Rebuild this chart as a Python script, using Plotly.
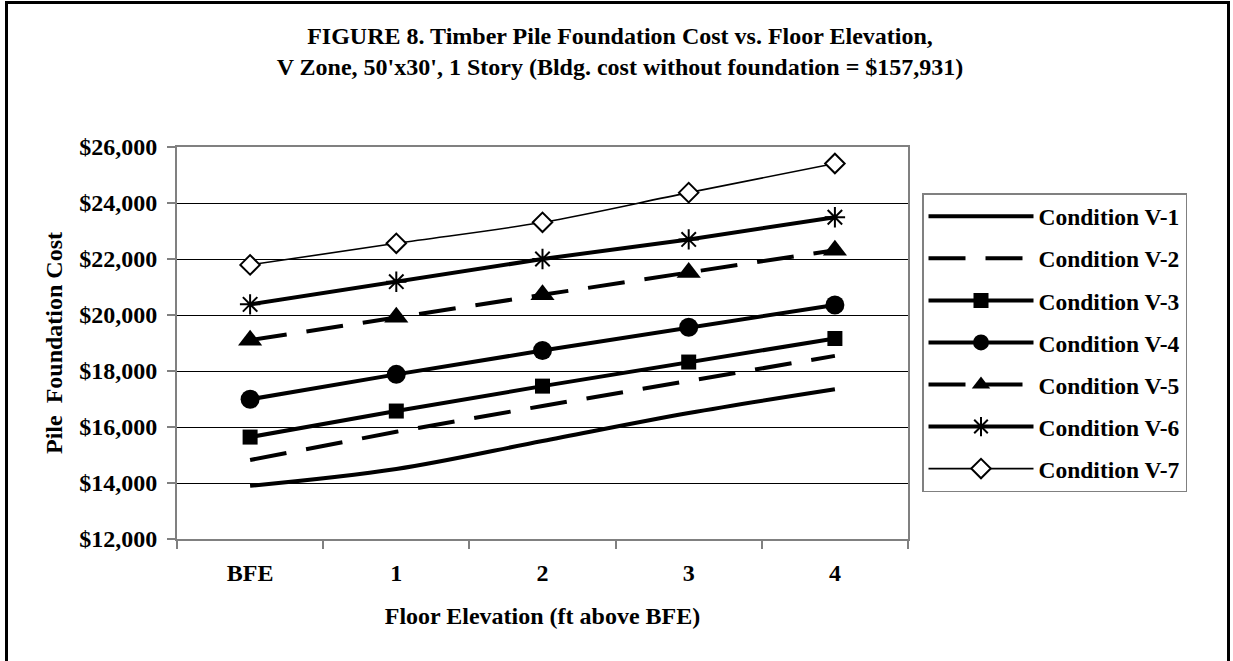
import plotly.graph_objects as go

categories = ["BFE", "1", "2", "3", "4"]
v1 = [13900, 14500, 15500, 16500, 17350]
v2 = [14820, 15830, 16750, 17650, 18540]
v3 = [15640, 16570, 17460, 18320, 19160]
v4 = [16990, 17880, 18730, 19560, 20360]
v5 = [19100, 19920, 20720, 21520, 22310]
v6 = [20380, 21190, 22000, 22700, 23490]
v7 = [21790, 22560, 23310, 24370, 25410]
names = ["Condition V-1", "Condition V-2", "Condition V-3", "Condition V-4",
         "Condition V-5", "Condition V-6", "Condition V-7"]

W, H = 1233, 661
ML, MR, MT, MB = 177, 325, 147, 122
PW, PH = W - ML - MR, H - MT - MB
FONT = "Liberation Serif, Times New Roman, serif"

def px_x(p):
    return (p - ML) / PW

def px_y(p):
    return (H - MB - p) / PH

def bfont(size):
    return dict(family=FONT, size=size, color="black", weight="bold")

fig = go.Figure()
dash = "37px,20px"
specs = [
    (v1, dict(width=4, shape="spline"), None),
    (v2, dict(width=4, dash=dash), None),
    (v3, dict(width=4), dict(symbol="square", size=15, color="black")),
    (v4, dict(width=4), dict(symbol="circle", size=19, color="black")),
    (v5, dict(width=4, dash=dash), dict(symbol="triangle-up", size=21, color="black")),
    (v6, dict(width=4), dict(symbol="asterisk-open", size=17, color="black", line=dict(width=2, color="black"))),
    (v7, dict(width=1.6, shape="spline"), dict(symbol="diamond", size=15, color="white", line=dict(width=2, color="black"))),
]
for i, (vals, line, marker) in enumerate(specs):
    line = dict(color="black", **line)
    kw = dict(x=categories, y=vals, name=names[i], line=line, legendgroup=f"g{i}",
              mode="lines+markers" if marker else "lines")
    if marker:
        kw["marker"] = marker
    fig.add_trace(go.Scatter(**kw))

fig.update_layout(
    width=W, height=H,
    margin=dict(l=ML, r=MR, t=MT, b=MB),
    paper_bgcolor="white", plot_bgcolor="white",
    font=bfont(24),
    title=dict(
        text="FIGURE 8. Timber Pile Foundation Cost vs. Floor Elevation,<br>V Zone, 50'x30', 1 Story (Bldg. cost without foundation = $157,931)",
        x=620 / W, xref="container", xanchor="center",
        y=1 - 44 / H, yref="container", yanchor="middle",
        font=bfont(24),
    ),
    showlegend=True,
    legend=dict(
        x=px_x(922), xanchor="left", y=px_y(193), yanchor="top",
        bordercolor="#808080", borderwidth=1.5, bgcolor="white",
        font=bfont(23.5),
        tracegroupgap=8.5, itemwidth=105,
        entrywidth=265, entrywidthmode="pixels",
    ),
)
fig.update_xaxes(
    type="category", range=[-0.5, 4.5],
    tickson="boundaries", ticks="outside", ticklen=8, tickcolor="#808080", tickwidth=1.5,
    showline=True, linecolor="#808080", linewidth=2, mirror=True,
    showgrid=False,
    tickfont=bfont(24), ticklabelstandoff=11,
    title=dict(text="Floor Elevation (ft above BFE)", standoff=22, font=bfont(24)),
)
fig.update_yaxes(
    range=[12000, 26000], dtick=2000, tick0=12000,
    tickformat=",d", tickprefix="$",
    ticks="outside", ticklen=8, tickcolor="#808080", tickwidth=1.5,
    showline=True, linecolor="#808080", linewidth=2, mirror=True,
    showgrid=True, gridcolor="black", gridwidth=1,
    zeroline=False,
    tickfont=bfont(24), ticklabelstandoff=5,
    title=dict(text="Pile  Foundation Cost", standoff=10, font=bfont(24)),
)
# outer chart frame
fig.add_shape(type="rect", xref="paper", yref="paper",
              x0=px_x(6.5), x1=px_x(1228.5), y0=px_y(2.5), y1=px_y(700),
              line=dict(color="black", width=3), fillcolor="rgba(0,0,0,0)", layer="below")

fig.write_html("out.html", config={"displayModeBar": False},
               post_script="document.body.style.margin='0';document.body.style.overflow='hidden';")
